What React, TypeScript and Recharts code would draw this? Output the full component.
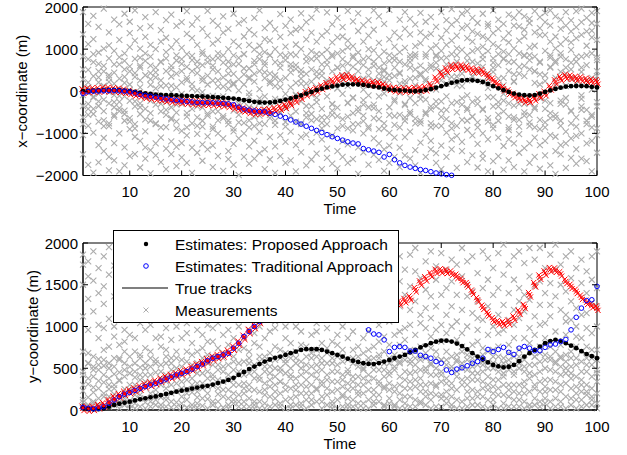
import React from 'react';
import { ComposedChart, Scatter, Line, XAxis, YAxis, ReferenceArea, Legend } from 'recharts';

const FONT = '"Liberation Sans", Arial, Helvetica, sans-serif';
const FS = 15;
const LEG_FS = 15.5;

const timeTicks = [10, 20, 30, 40, 50, 60, 70, 80, 90, 100];
const xCoordTicks = [-2000, -1000, 0, 1000, 2000];
const yCoordTicks = [0, 500, 1000, 1500, 2000];

// ---------- x-coordinate panel ----------
const trueTrackX = [
  0, 10, 15, 20, 25, 30, 30, 25, 15, 0,
  -15, -35, -50, -65, -80, -85, -90, -95, -100, -105,
  -110, -115, -120, -125, -130, -140, -145, -155, -165, -175,
  -190, -210, -230, -250, -265, -270, -265, -255, -230, -200,
  -170, -135, -100, -55, -15, 25, 60, 90, 115, 135,
  155, 165, 165, 160, 150, 130, 110, 90, 65, 40,
  30, 20, 15, 5, 0, 10, 30, 50, 85, 120,
  160, 200, 230, 255, 265, 260, 245, 220, 175, 120,
  70, 25, -15, -55, -80, -95, -100, -90, -55, -15,
  20, 55, 85, 110, 120, 125, 125, 120, 105, 90,
];
const proposedX = trueTrackX;
const traditionalX = [
  -50, -10, 0, 5, 10, 15, 15, 10, 0, -15,
  -40, -75, -100, -120, -140, -160, -180, -200, -215, -230,
  -245, -255, -265, -270, -270, -275, -280, -290, -300, -320,
  -380, -420, -450, -470, -480, -490, -520, -550, -590, -625,
  -680, -730, -780, -830, -880, -930, -980, -1030, -1080, -1120,
  -1160, -1200, -1230, -1250, -1360, -1390, -1420, -1450, -1560, -1500,
  -1625, -1700, -1760, -1800, -1830, -1860, -1880, -1910, -1940, -1960,
  -1980, -1995,
];
const target2EstX = [
  -30, 0, 10, 15, 20, 20, 20, 15, 5, -20,
  -50, -85, -110, -130, -150, -170, -190, -205, -220, -235,
  -250, -260, -268, -275, -278, -282, -290, -300, -315, -350,
  -395, -430, -460, -480, -490, -495, -505,
];
const target2MeasX = [
  0, 20, 30, 30, 40, 40, 30, 20, 0, -30,
  -60, -90, -120, -140, -160, -180, -200, -215, -230, -245,
  -255, -265, -275, -280, -285, -290, -300, -310, -330, -370,
  -410, -440, -480, -500, -490, -480, -470, -440, -400, -360,
  -290, -215, -140, -60, -10, 30, 90, 150, 230, 290,
  330, 340, 300, 240, 210, 190, 180, 170, 120, 70,
  40, 30, 30, 30, 40, 50, 60, 130, 280, 400,
  500, 570, 580, 580, 550, 500, 480, 460, 360, 260,
  150, 60, -20, -100, -170, -215, -220, -175, -110, -55,
  80, 220, 300, 340, 330, 300, 290, 260, 240, 220,
];
const clutterX = [
  [40, -620, 1350, -1500, 280, -90, 830, -1040, 1880],
  [-300, 510, -1750, 90, 1120, -820, -40, 1600, -420],
  [1790, -130, 690, -980, -1930, 360, -540, 1240, 20],
  [-720, 210, -1280, 1530, -60, 920, -350, -1690, 470],
  [600, -1110, 130, -470, 1960, -830, 1010, -200, -1420],
  [-1560, 320, -760, 1400, -20, -290, 780, -1880, 1090],
  [180, 1700, -560, -1230, 440, -90, 960, -1640, -380],
  [-1000, 1220, 60, -400, 640, -1900, 1590, -250, 300],
  [900, -700, -1330, 200, 1840, -120, 520, -1760, -460],
  [-230, 1380, -900, 470, -1540, 20, 1050, -640, 1650],
  [1200, -1490, 340, -60, 770, -1080, -360, 1920, -780],
  [-540, 90, 1500, -1810, 610, -290, 1010, -1180, 260],
  [380, -950, -1600, 1290, -110, 720, -420, 1760, -1330],
  [-1400, 820, 150, -700, 1540, -1950, 430, -230, 1100],
  [1000, -320, -1240, 560, 1880, -780, 70, -1520, 330],
  [-860, 1450, 260, -1680, 690, -480, 1180, -130, -1100],
  [140, -1360, 930, -560, 1690, -250, -1850, 480, 1270],
  [-1190, 600, -20, 1820, -670, 350, -1490, 1040, -380],
  [1550, -880, 420, -1320, 90, 1190, -510, -1780, 730],
  [-300, 1030, -1570, 650, -940, 1640, 210, -1230, -60],
  [880, -1700, 320, -520, 1360, -150, 1900, -1050, 580],
  [-1340, 170, 1260, -760, 480, -1940, 840, -290, 1580],
  [430, -1010, -270, 1730, -1460, 700, 20, 1100, -620],
  [-1650, 940, -390, 250, 1480, -840, 620, -1260, -20],
  [1320, -580, 800, -1380, 160, 1910, -1070, 370, -240],
  [-900, 520, -1800, 1130, -110, 760, -480, 1670, -1290],
  [260, 1560, -690, -1540, 900, -160, 1220, -1000, 470],
  [-1120, -300, 1390, 680, -1890, 110, 1780, -640, 330],
  [700, -1420, 60, 1000, -780, 1480, -330, -1610, 560],
  [-460, 1180, -1250, 410, 1840, -950, 190, -1750, 850],
  [1610, -740, 280, -1120, 650, -300, 1070, -1990, 20],
  [-1560, 400, 1300, -460, -1000, 880, 160, 1690, -750],
  [540, -1310, -120, 1450, -690, 1100, -1720, 300, -380],
  [-830, 990, -1600, 230, 1740, -420, 640, -1180, 1350],
  [1080, -270, -1470, 760, -960, 1920, 50, -580, 480],
  [-1380, 620, 1240, -780, 310, -1850, 930, -120, 1500],
  [190, -1090, 1620, -560, -1620, 850, 1200, -300, 420],
  [-700, 1470, 380, -1310, 1000, -180, -1940, 690, 120],
  [1290, -500, -1050, 560, -220, 1830, -1540, 260, 870],
  [-1200, 320, 1060, -840, 1550, -60, 740, -1700, -400],
  [640, -1640, -310, 1380, 90, -960, 1700, 450, -580],
  [-480, 1110, -1280, 200, 860, -1900, 1460, -100, 530],
  [1500, -760, 420, -1450, 1000, -240, -1090, 1850, 300],
  [-1030, 180, 1640, -620, -1760, 710, 1230, -350, 40],
  [950, -1210, -80, 1390, -540, 520, -1620, 1750, 230],
  [-1480, 780, 1180, -260, 460, -990, 1940, -660, 100],
  [370, -1850, 640, -420, 1320, -1140, 880, 110, -750],
  [-620, 1420, -1360, 260, 1870, -120, 740, -1580, 980],
  [1160, -310, -1050, 830, -1720, 470, 1590, -560, 150],
  [-880, 560, 1280, -1420, 70, 1740, -390, 900, -1830],
  [280, -1190, 950, -660, 1520, -60, -1560, 610, 1300],
  [-1700, 1040, -270, 1910, -880, 450, 1200, -1260, 130],
  [800, -520, 1660, -1610, 330, 1070, -150, -930, 580],
  [-1330, 220, 1430, -780, 690, -1960, 1850, -400, 920],
  [1570, -1000, 40, 1180, -580, 760, -1450, 300, -210],
  [-380, 1320, -1740, 520, 1000, -880, 1690, -100, 370],
  [970, -1510, 600, -320, 1460, -1120, 180, 1920, -640],
  [-1240, 420, 1150, -900, 280, 1780, -470, -1630, 820],
  [510, -760, -1380, 1600, -50, 940, -1890, 660, 230],
  [-990, 1230, 380, -560, 1930, -1290, 720, 90, -1700],
  [1390, -240, -1560, 830, 360, -800, 1060, -1100, 560],
  [-560, 1700, 180, -1340, 930, -40, -1800, 1280, 440],
  [240, -1090, 1480, -700, 640, 1880, -300, -1520, 1030],
  [-1600, 780, -160, 1350, -960, 300, 1720, -490, 690],
  [1070, -1400, 520, -280, 1590, -1760, 880, 140, -650],
  [-760, 380, 1860, -1220, 1140, -90, 610, -1940, 1400],
  [1650, -540, -1030, 290, 820, -1560, 1290, -200, 500],
  [-1380, 1010, 140, -850, 1760, 560, -1180, 1360, -430],
  [830, -1700, 1530, -360, 40, 1090, -820, 680, -1470],
  [-240, 1270, -1290, 1880, 480, -610, 960, -1850, 260],
  [1440, -980, 380, -1560, 1100, -120, 1690, -440, 800],
  [-1140, 620, 1950, -760, 220, -1380, 1200, 1580, -290],
  [350, -1820, 860, 1320, -500, 1680, -1060, 140, 1020],
  [-680, 1500, -1420, 580, -170, 980, 1840, -1200, 420],
  [1260, -400, 720, -1680, 1560, 260, -920, 1900, -100],
  [-1520, 950, -600, 1180, 1740, -1050, 340, -250, 1420],
  [660, -1250, 1360, -300, 1000, -1810, 1620, 500, -740],
  [-1000, 1840, 230, -1480, 760, 1300, -440, 1060, -1600],
  [1600, -640, -1140, 950, 420, 1540, -1900, 80, 1240],
  [-360, 1120, -1660, 680, 1920, -880, 1380, -140, 560],
  [1050, -1540, 1700, -260, 880, -1100, 300, 1480, -700],
  [-1860, 760, 1250, -480, 1600, 140, -1300, 940, -60],
  [480, -920, 1820, -1640, 1160, -290, 690, -1140, 1380],
  [-1240, 1560, -340, 1020, -1800, 400, 1740, -620, 220],
  [900, -1460, 580, 1880, -680, 1200, -1020, 1540, -160],
  [-580, 1300, -1900, 840, 1460, -300, 360, -1350, 1780],
  [1720, -820, 1040, -1240, 520, 1620, -560, -1700, 860],
  [-1100, 470, 1400, -420, 1900, -1560, 1080, 200, -860],
  [1330, -1280, 680, 1760, -160, -900, 1500, -1840, 400],
  [-740, 1640, -1520, 960, 240, 1340, -420, -1180, 1860],
  [580, -1040, 1180, -1760, 1560, 800, -280, 1920, -640],
  [-1420, 1020, 320, -560, 1780, -1080, 1300, 680, -1960],
  [1480, -700, -1280, 1120, 460, 1700, -220, -1500, 900],
  [-320, 1880, -1820, 760, 1240, -960, 1560, 120, -1240],
  [1160, -1580, 520, 1680, -480, 980, -1120, 1420, 300],
  [-1060, 700, 1520, -1380, 1900, 180, -620, 1260, -1720],
  [820, -360, 1340, -1000, 1640, -1600, 560, 1960, -180],
  [-1660, 1420, 260, -780, 1080, 1740, -1240, 620, -440],
  [1280, -1180, 1860, 40, -560, 1440, -1900, 900, 1620],
  [-880, 1600, -260, 1220, -1460, 740, 1900, -1040, 360],
];
const clutterXMid = [
  [-350, 520, -780], [210, -560, 760], [-420, 880, -150], [650, -240, 330], [-690, 120, 470],
  [380, -830, 220], [-260, 640, -600], [810, -110, -470], [-540, 340, 720], [160, -720, 590],
  [-880, 430, -240], [560, -380, 800], [-150, 900, -670], [290, -520, 610], [-760, 450, -90],
  [700, -300, 120], [-440, 780, -850], [130, -640, 520], [-320, 850, -720], [480, -190, 760],
  [-600, 260, -860], [740, -420, 60], [-820, 580, -360], [320, -700, 880], [-250, 690, -530],
  [610, -840, 250], [-480, 110, 790], [850, -590, -120], [-700, 420, 220], [160, -880, 640],
  [-390, 790, -560], [540, -250, 880], [-860, 330, -40], [720, -610, 410], [-170, 880, -760],
  [450, -430, 690], [-640, 240, 860], [300, -800, -250], [-520, 660, 100], [840, -350, -730],
  [-280, 560, 880], [620, -720, -80], [-780, 180, 500], [410, -520, 820], [-360, 760, -690],
  [880, -150, 350], [-620, 480, -880], [200, -780, 630], [-460, 870, -300], [560, -590, 70],
  [-820, 380, 760], [660, -280, -600], [-160, 840, -780], [480, -480, 260], [-710, 620, -320],
  [800, -840, 140], [-400, 260, 700], [560, -660, -120], [-880, 480, 340], [260, -380, 860],
  [-590, 740, -200], [700, -860, 420], [-330, 160, -620], [860, -540, 560], [-760, 320, 820],
  [420, -180, -700], [-500, 880, 240], [620, -760, -360], [-240, 540, 860], [780, -460, -820],
  [-660, 180, 640], [340, -880, 880], [-820, 700, -260], [520, -320, 120], [-440, 860, -700],
  [700, -600, 360], [-180, 460, -860], [860, -420, 580], [-720, 300, -140], [460, -800, 780],
  [-360, 620, -560], [780, -220, 320], [-600, 880, -860], [240, -680, 700], [-840, 420, -300],
  [600, -500, 860], [-280, 740, -740], [820, -380, 480], [-680, 160, 700], [380, -860, -220],
  [-520, 560, 860], [720, -640, 140], [-300, 820, -820], [560, -160, 420], [-760, 680, -460],
  [300, -840, 820], [-440, 460, -100], [860, -700, 260], [-600, 320, -860], [480, -360, 800],
];

// ---------- y-coordinate panel ----------
const trueTrackY = [
  20, 12, 8, 10, 20, 40, 60, 75, 88, 100,
  115, 128, 140, 152, 163, 178, 192, 206, 220, 232,
  244, 256, 268, 280, 290, 305, 322, 340, 360, 385,
  420, 455, 490, 520, 550, 580, 605, 625, 640, 660,
  680, 700, 720, 728, 730, 728, 720, 700, 680, 660,
  640, 615, 590, 575, 560, 552, 550, 562, 580, 600,
  620, 640, 660, 690, 720, 750, 775, 800, 818, 830,
  830, 820, 795, 765, 725, 680, 640, 605, 570, 540,
  522, 510, 518, 540, 585, 640, 680, 720, 760, 800,
  825, 840, 828, 800, 770, 740, 705, 670, 645, 620,
];
const proposedY = trueTrackY;
const traditionalY = [
  30, 20, 15, 20, 40, 80, 120, 160, 190, 210,
  235, 260, 280, 300, 320, 345, 370, 395, 420, 440,
  460, 490, 520, 550, 590, 620, 640, 660, 680, 740,
  800, 880, 940, 1000, 1060, 1120, 1180, 1230, 1280, 1320,
  1360, 1390, 1400, 1400, 1380, 1350, 1320, 1280, 1240, 1200,
  1170, 1140, 1110, 1090, 1100, 960, 910, 900, 840, 700,
  750, 760, 750, 705, 705, 655, 640, 620, 580, 560,
  480, 450, 490, 505, 530, 560, 580, 620, 725, 700,
  725, 750, 690, 665, 740, 760, 740, 710, 710, 750,
  780, 790, 820, 845, 960, 1110, 1220, 1310, 1320, 1480,
];
const target2EstY = [
  25, 15, 18, 30, 50, 90, 130, 165, 195, 215,
  238, 262, 285, 305, 325, 350, 375, 398, 420, 442,
  462, 492, 522, 552, 590, 620, 640, 660, 685, 740,
  800, 875, 940, 1000,
];
const target2MeasY = [
  20, 10, 20, 40, 60, 100, 140, 170, 200, 220,
  240, 265, 290, 310, 330, 355, 380, 400, 420, 445,
  465, 495, 525, 555, 590, 620, 640, 660, 690, 740,
  800, 870, 940, 1000, 1060, 1120, 1180, 1240, 1300, 1350,
  1400, 1440, 1470, 1490, 1500, 1500, 1490, 1470, 1440, 1410,
  1380, 1350, 1320, 1300, 1280, 1260, 1250, 1240, 1240, 1250,
  1260, 1280, 1310, 1340, 1440, 1520, 1570, 1620, 1660, 1665,
  1660, 1640, 1600, 1550, 1500, 1410, 1320, 1230, 1150, 1080,
  1045, 1035, 1050, 1100, 1170, 1240, 1380, 1500, 1590, 1640,
  1680, 1675, 1630, 1540, 1480, 1420, 1350, 1290, 1250, 1220,
];
const clutterY = [
  [30, 1860, 420, 1500, 230, 700, 1120, 90, 1740],
  [310, 1780, 150, 960, 560, 1330, 40, 680, 1600],
  [520, 80, 1550, 270, 1180, 400, 1900, 640, 20],
  [140, 1400, 610, 860, 350, 1700, 60, 1020, 480],
  [720, 1270, 200, 1840, 40, 530, 980, 330, 1480],
  [380, 100, 1620, 560, 1090, 250, 760, 1950, 160],
  [60, 880, 430, 1360, 620, 190, 1730, 1000, 300],
  [600, 1540, 20, 350, 1200, 780, 130, 1850, 450],
  [250, 960, 700, 60, 1660, 480, 1310, 170, 820],
  [440, 1820, 110, 640, 1080, 300, 1450, 20, 900],
  [180, 1250, 560, 860, 1960, 80, 390, 1580, 700],
  [660, 40, 1380, 240, 1040, 510, 1720, 360, 140],
  [90, 740, 1600, 420, 1150, 280, 960, 1880, 560],
  [520, 1300, 200, 1780, 700, 40, 1020, 330, 1480],
  [330, 860, 60, 1520, 600, 1210, 180, 1930, 450],
  [760, 150, 1090, 380, 1700, 20, 540, 1360, 880],
  [40, 1440, 640, 260, 980, 1800, 420, 120, 720],
  [480, 1120, 200, 1650, 560, 30, 1320, 840, 300],
  [230, 1960, 700, 90, 1240, 410, 1560, 620, 1000],
  [600, 80, 1410, 340, 860, 1740, 160, 520, 1180],
  [120, 1040, 460, 1880, 250, 700, 1500, 30, 920],
  [380, 1620, 60, 800, 1280, 540, 210, 1950, 660],
  [700, 220, 1150, 30, 1720, 440, 960, 1380, 150],
  [50, 900, 560, 1480, 320, 1840, 740, 1100, 260],
  [460, 1300, 130, 660, 1900, 280, 1020, 20, 820],
  [290, 1560, 820, 60, 1180, 540, 1760, 380, 980],
  [620, 100, 1040, 1440, 360, 740, 190, 1660, 480],
  [160, 1860, 520, 900, 30, 1260, 680, 1520, 340],
  [540, 1100, 240, 1700, 780, 60, 1380, 420, 960],
  [80, 640, 1540, 300, 1120, 1930, 480, 860, 200],
  [720, 1340, 180, 1000, 420, 1780, 40, 560, 1220],
  [260, 860, 1620, 580, 1400, 100, 740, 320, 1900],
  [440, 40, 1180, 700, 1860, 240, 960, 1500, 620],
  [100, 1580, 380, 920, 60, 1280, 540, 1740, 800],
  [580, 1000, 220, 1460, 760, 20, 1900, 400, 1160],
  [320, 1720, 640, 80, 1120, 460, 1400, 860, 180],
  [680, 280, 1560, 940, 40, 1820, 520, 1240, 360],
  [140, 1060, 760, 1680, 400, 600, 1320, 220, 980],
  [500, 1900, 80, 720, 1200, 340, 1580, 620, 40],
  [240, 860, 1460, 560, 1000, 120, 1760, 440, 680],
  [620, 20, 1120, 380, 1640, 800, 260, 1380, 500],
  [60, 1500, 560, 1000, 300, 1860, 700, 160, 1220],
  [420, 1260, 200, 780, 1700, 40, 940, 580, 1440],
  [760, 120, 1600, 460, 1080, 280, 1940, 640, 360],
  [200, 1360, 680, 60, 1160, 900, 520, 1760, 300],
  [540, 940, 100, 1500, 380, 1840, 720, 240, 1040],
  [340, 1700, 800, 160, 1260, 560, 20, 1080, 620],
  [680, 60, 1420, 420, 980, 1900, 260, 740, 1200],
  [100, 1140, 560, 1620, 340, 820, 1360, 20, 460],
  [460, 1800, 240, 900, 640, 1480, 120, 1080, 780],
  [280, 720, 1560, 40, 1000, 420, 1860, 580, 180],
  [600, 1220, 140, 1720, 480, 860, 320, 1380, 60],
  [40, 940, 720, 1500, 260, 1900, 560, 1100, 400],
  [520, 1420, 300, 760, 1140, 80, 1700, 640, 220],
  [200, 1640, 860, 480, 1260, 20, 680, 1960, 380],
  [720, 120, 1080, 340, 1560, 580, 940, 240, 1300],
  [380, 1860, 540, 60, 1180, 760, 1440, 180, 620],
  [100, 1020, 660, 1700, 300, 820, 1280, 480, 1940],
  [560, 280, 1480, 880, 40, 1140, 700, 1620, 400],
  [240, 1760, 420, 1060, 620, 140, 1900, 780, 320],
  [660, 60, 1300, 480, 900, 1600, 220, 1100, 520],
  [120, 1540, 780, 300, 1240, 580, 1840, 20, 940],
  [460, 980, 160, 1680, 660, 1380, 360, 840, 80],
  [720, 1200, 340, 40, 1860, 560, 1020, 1480, 260],
  [280, 1660, 620, 900, 120, 1300, 460, 1940, 700],
  [600, 100, 1140, 380, 1580, 760, 220, 1040, 480],
  [60, 1440, 500, 1780, 300, 980, 680, 1220, 160],
  [420, 1900, 740, 200, 1100, 540, 1360, 20, 880],
  [700, 300, 1560, 620, 40, 1240, 420, 1720, 960],
  [180, 1020, 460, 1380, 820, 140, 1880, 600, 340],
  [540, 1680, 80, 920, 380, 1460, 700, 1140, 220],
  [320, 60, 1240, 640, 1800, 480, 1000, 260, 1540],
  [660, 1380, 400, 120, 1060, 1740, 580, 840, 20],
  [100, 920, 700, 1600, 300, 1200, 500, 1940, 760],
  [480, 1500, 220, 1000, 660, 40, 1360, 380, 1780],
  [240, 1840, 560, 360, 1160, 780, 140, 1420, 620],
  [620, 160, 1300, 820, 440, 1640, 60, 960, 1100],
  [40, 1080, 660, 1900, 260, 540, 1460, 740, 340],
  [400, 1560, 120, 700, 1240, 900, 1820, 300, 580],
  [720, 280, 1000, 500, 1700, 60, 1380, 640, 200],
  [180, 1460, 540, 1140, 360, 1880, 760, 20, 920],
  [560, 960, 300, 1620, 80, 1260, 620, 1980, 440],
  [300, 1740, 780, 160, 1080, 480, 1400, 680, 40],
  [640, 40, 1200, 420, 1560, 860, 220, 1020, 1840],
  [120, 1300, 500, 1900, 720, 300, 1100, 560, 1460],
  [460, 860, 200, 1380, 600, 1760, 20, 1180, 340],
  [700, 1600, 380, 60, 980, 540, 1320, 800, 1940],
  [260, 1120, 640, 1480, 140, 900, 1800, 420, 60],
  [580, 1940, 100, 760, 1260, 340, 1540, 680, 1020],
  [80, 660, 1400, 280, 1040, 500, 1700, 860, 220],
  [480, 1260, 760, 20, 1860, 600, 1120, 360, 1520],
  [340, 1680, 140, 940, 560, 1360, 700, 1980, 240],
  [620, 100, 1500, 420, 1200, 780, 40, 1740, 520],
  [160, 1060, 580, 1840, 320, 900, 1420, 660, 1140],
  [520, 1580, 260, 700, 1080, 60, 1300, 440, 1900],
  [280, 880, 1700, 120, 620, 1220, 400, 1000, 760],
  [700, 220, 1140, 1520, 460, 40, 1800, 860, 580],
  [60, 1400, 540, 980, 300, 1660, 760, 1160, 180],
  [400, 1840, 120, 720, 1280, 620, 1560, 920, 260],
  [600, 1000, 340, 1460, 80, 1900, 480, 1240, 720],
];
const clutterYLow = [
  [120, 460, 300], [60, 380, 560], [210, 480, 100], [540, 260, 20], [160, 420, 600],
  [300, 40, 500], [520, 260, 100], [80, 360, 620], [400, 140, 560], [240, 520, 60],
  [460, 20, 300], [180, 620, 420], [340, 500, 20], [100, 420, 620], [560, 240, 120],
  [300, 460, 60], [160, 560, 340], [620, 100, 400], [40, 320, 500], [260, 420, 20],
  [580, 200, 360], [20, 480, 300], [320, 560, 80], [440, 140, 620], [200, 560, 380],
  [100, 420, 640], [260, 20, 540], [460, 240, 620], [140, 360, 20], [580, 360, 120],
  [300, 100, 460], [40, 420, 200], [560, 300, 140], [240, 460, 20], [100, 360, 640],
  [520, 240, 20], [160, 440, 600], [300, 60, 500], [460, 200, 340], [20, 600, 300],
  [140, 420, 60], [380, 620, 240], [80, 300, 500], [540, 200, 20], [420, 120, 620],
  [260, 640, 460], [100, 480, 300], [560, 180, 360], [220, 620, 60], [340, 20, 540],
  [640, 160, 360], [20, 440, 240], [620, 340, 120], [180, 400, 20], [500, 80, 300],
  [20, 420, 620], [240, 480, 100], [620, 340, 180], [60, 260, 480], [460, 80, 560],
  [280, 600, 40], [400, 200, 560], [600, 260, 20], [160, 440, 600], [40, 360, 540],
  [300, 80, 640], [460, 220, 620], [120, 320, 560], [500, 180, 280], [40, 420, 600],
  [320, 140, 600], [160, 520, 20], [460, 240, 600], [20, 360, 560], [600, 140, 300],
  [440, 60, 520], [220, 540, 360], [580, 160, 460], [20, 240, 500], [360, 560, 120],
  [640, 260, 460], [20, 400, 180], [540, 240, 600], [300, 120, 460], [640, 200, 40],
  [100, 520, 280], [220, 440, 20], [540, 300, 640], [40, 460, 220], [600, 360, 140],
  [240, 640, 100], [460, 40, 580], [300, 220, 640], [20, 440, 500], [380, 140, 620],
  [540, 20, 200], [120, 360, 300], [620, 220, 460], [60, 540, 160], [200, 440, 20],
];

// ---------- helpers ----------
type Pt = { t: number; v: number };
const series = (vals: number[]): Pt[] => vals.map((v, i) => ({ t: i + 1, v }));
const cloud = (...sets: number[][][]): Pt[] =>
  sets.flatMap((rows) => rows.flatMap((row, i) => row.map((v) => ({ t: i + 1, v }))));

const PLOT_L = 83;
const PLOT_R = 597;

const crossPath = (cx: number, cy: number, s: number) =>
  `M${cx - s},${cy - s}L${cx + s},${cy + s}M${cx - s},${cy + s}L${cx + s},${cy - s}`;

const GrayCross = (p: any) => <path d={crossPath(p.cx, p.cy, 3)} stroke="#acacac" strokeWidth={1.1} fill="none" />;
const RedCluster = (p: any) => (
  <path
    d={crossPath(p.cx, p.cy, 2.6) + crossPath(p.cx - 1, p.cy - 2.2, 2.6) + crossPath(p.cx + 1, p.cy + 2.2, 2.6)}
    stroke="#ff0000"
    strokeWidth={1}
    fill="none"
  />
);
const BlackDot = (p: any) => <circle cx={p.cx} cy={p.cy} r={2.4} fill="#000" />;
const BlueRing = (p: any) => <circle cx={p.cx} cy={p.cy} r={2.3} fill="none" stroke="#0000ff" strokeWidth={1} />;
const RedDot = (p: any) => <circle cx={p.cx} cy={p.cy} r={1.6} fill="#ff0000" />;

const fmt = (v: number) => String(v).replace('-', '\u2212');

const makeYTick = () => (props: any) => {
  const { y, payload } = props;
  return (
    <g>
      <line x1={PLOT_L} x2={PLOT_L + 5} y1={y} y2={y} stroke="#000" />
      <line x1={PLOT_R} x2={PLOT_R - 5} y1={y} y2={y} stroke="#000" />
      <text x={PLOT_L - 5} y={y} textAnchor="end" dominantBaseline="central" fontSize={FS} fontFamily={FONT} fill="#000">
        {fmt(payload.value)}
      </text>
    </g>
  );
};

const makeXTick = (top: number, bottom: number) => (props: any) => {
  const { x, payload } = props;
  return (
    <g>
      <line x1={x} x2={x} y1={bottom} y2={bottom - 5} stroke="#000" />
      <line x1={x} x2={x} y1={top} y2={top + 5} stroke="#000" />
      <text x={x} y={bottom + 16} textAnchor="middle" dominantBaseline="central" fontSize={FS} fontFamily={FONT} fill="#000">
        {payload.value}
      </text>
    </g>
  );
};

const titleText = (x: number, y: number, text: string, rotate: boolean) => () =>
  (
    <text
      x={x}
      y={y}
      transform={rotate ? `rotate(-90 ${x} ${y})` : undefined}
      textAnchor="middle"
      dominantBaseline="central"
      fontSize={FS}
      fontFamily={FONT}
      fill="#000"
    >
      {text}
    </text>
  );

const legendText = (y: number, s: string) => (
  <text x={61} y={y} dominantBaseline="central" fontSize={LEG_FS} fontFamily={FONT} fill="#000">
    {s}
  </text>
);

const LegendBox = () => (
  <div style={{ width: 286, height: 93, background: '#fff', border: '1px solid #000', boxSizing: 'border-box' }}>
    <svg width={284} height={91} style={{ display: 'block' }}>
      <circle cx={32} cy={13} r={2.2} fill="#000" />
      {legendText(13, 'Estimates: Proposed Approach')}
      <circle cx={32} cy={35} r={2.3} fill="none" stroke="#0000ff" strokeWidth={1} />
      {legendText(35, 'Estimates: Traditional Approach')}
      <line x1={8} x2={54} y1={57} y2={57} stroke="#000" strokeWidth={1.2} />
      {legendText(57, 'True tracks')}
      <path d={crossPath(32, 79, 2.5)} stroke="#acacac" strokeWidth={1} fill="none" />
      {legendText(79, 'Measurements')}
    </svg>
  </div>
);

const TOP_PLOT_TOP = 7;
const TOP_PLOT_BOTTOM = 175.5;
const BOT_PLOT_TOP = 15;
const BOT_PLOT_BOTTOM = 182;

export default function App() {
  return (
    <div style={{ position: 'absolute', left: 0, top: 0, width: 627, height: 455, background: '#fff' }}>
      <div style={{ position: 'absolute', left: 0, top: 0 }}>
        <ComposedChart width={627} height={228} margin={{ top: TOP_PLOT_TOP, right: 30, bottom: 0, left: 0 }}>
          <XAxis
            type="number"
            dataKey="t"
            domain={[1, 100]}
            ticks={timeTicks}
            interval={0}
            height={228 - TOP_PLOT_BOTTOM}
            tickSize={0}
            tickMargin={0}
            tickLine={false}
            axisLine={{ stroke: '#000' }}
            tick={makeXTick(TOP_PLOT_TOP, TOP_PLOT_BOTTOM)}
            label={titleText(340, 208, 'Time', false)}
          />
          <YAxis
            type="number"
            dataKey="v"
            domain={[-2000, 2000]}
            ticks={xCoordTicks}
            interval={0}
            width={PLOT_L}
            tickSize={0}
            tickMargin={0}
            tickLine={false}
            axisLine={{ stroke: '#000' }}
            tick={makeYTick()}
            label={titleText(22, 91.3, 'x\u2212coordinate (m)', true)}
          />
          <ReferenceArea x1={1} x2={100} y1={-2000} y2={2000} fill="none" fillOpacity={0} stroke="#000" strokeWidth={1} />
          <Scatter data={cloud(clutterX, clutterXMid)} shape={GrayCross} isAnimationActive={false} />
          <Scatter data={series(target2MeasX)} shape={RedCluster} isAnimationActive={false} />
          <Line data={series(trueTrackX)} dataKey="v" stroke="#000" strokeWidth={1} dot={false} isAnimationActive={false} />
          <Scatter data={series(proposedX)} shape={BlackDot} isAnimationActive={false} />
          <Scatter data={series(traditionalX)} shape={BlueRing} isAnimationActive={false} />
          <Scatter data={series(target2EstX)} shape={RedDot} isAnimationActive={false} />
        </ComposedChart>
      </div>
      <div style={{ position: 'absolute', left: 0, top: 228 }}>
        <ComposedChart width={627} height={227} margin={{ top: BOT_PLOT_TOP, right: 30, bottom: 0, left: 0 }}>
          <XAxis
            type="number"
            dataKey="t"
            domain={[1, 100]}
            ticks={timeTicks}
            interval={0}
            height={227 - BOT_PLOT_BOTTOM}
            tickSize={0}
            tickMargin={0}
            tickLine={false}
            axisLine={{ stroke: '#000' }}
            tick={makeXTick(BOT_PLOT_TOP, BOT_PLOT_BOTTOM)}
            label={titleText(340, 215, 'Time', false)}
          />
          <YAxis
            type="number"
            dataKey="v"
            domain={[0, 2000]}
            ticks={yCoordTicks}
            interval={0}
            width={PLOT_L}
            tickSize={0}
            tickMargin={0}
            tickLine={false}
            axisLine={{ stroke: '#000' }}
            tick={makeYTick()}
            label={titleText(32, 98.5, 'y\u2212coordinate (m)', true)}
          />
          <ReferenceArea x1={1} x2={100} y1={0} y2={2000} fill="none" fillOpacity={0} stroke="#000" strokeWidth={1} />
          <Scatter data={cloud(clutterY, clutterYLow)} shape={GrayCross} isAnimationActive={false} />
          <Scatter data={series(target2MeasY)} shape={RedCluster} isAnimationActive={false} />
          <Line data={series(trueTrackY)} dataKey="v" stroke="#000" strokeWidth={1} dot={false} isAnimationActive={false} />
          <Scatter data={series(proposedY)} shape={BlackDot} isAnimationActive={false} />
          <Scatter data={series(traditionalY)} shape={BlueRing} isAnimationActive={false} />
          <Scatter data={series(target2EstY)} shape={RedDot} isAnimationActive={false} />
          <Legend
            layout="vertical"
            align="center"
            verticalAlign="middle"
            wrapperStyle={{ left: 113, top: 2, width: 286, height: 93 }}
            content={() => <LegendBox />}
          />
        </ComposedChart>
      </div>
    </div>
  );
}
